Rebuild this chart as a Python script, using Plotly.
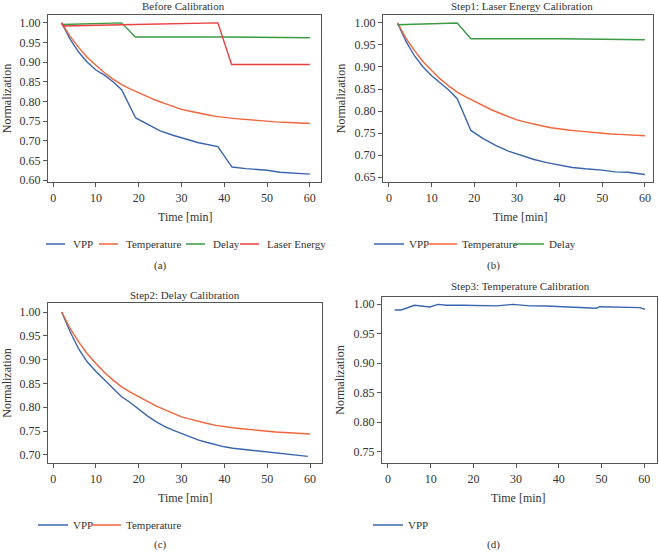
import plotly.graph_objects as go

# ---------------- data ----------------
temp_t = [2, 4, 6, 8, 10, 12, 14, 16, 18, 20, 22, 24, 26, 28, 30, 32, 34, 36, 38, 40,
          42, 44, 46, 48, 50, 52, 54, 56, 58, 60]
temp_v = [1.000, 0.965, 0.937, 0.912, 0.892, 0.873, 0.857, 0.843, 0.832, 0.822,
          0.812, 0.803, 0.795, 0.787, 0.780, 0.775, 0.770, 0.766, 0.762, 0.759,
          0.757, 0.755, 0.753, 0.751, 0.749, 0.748, 0.747, 0.746, 0.745, 0.744]

vpp_a_t = [2, 4, 6, 8, 10, 12, 14, 16, 19.3, 22, 25, 28, 31, 34, 38.5, 41.8, 45, 50, 53, 56, 60]
vpp_a_v = [1.000, 0.958, 0.925, 0.900, 0.880, 0.867, 0.850, 0.830, 0.758, 0.742, 0.725,
           0.714, 0.704, 0.695, 0.685, 0.633, 0.629, 0.625, 0.620, 0.618, 0.615]

delay_t = [2, 16, 19.2, 40, 60]
delay_v = [0.996, 1.000, 0.964, 0.964, 0.962]

laser_t = [2, 2.4, 16, 38.5, 41.7, 60]
laser_v = [1.000, 0.992, 0.995, 1.000, 0.894, 0.894]

vpp_b_t = [2, 4, 6, 8, 10, 12, 14, 16, 19.2, 22, 25, 28, 31, 34, 37, 40, 43, 46, 50, 53, 56, 60]
vpp_b_v = [1.000, 0.958, 0.925, 0.900, 0.880, 0.865, 0.848, 0.828, 0.756, 0.738, 0.722,
           0.709, 0.699, 0.690, 0.683, 0.677, 0.672, 0.669, 0.666, 0.662, 0.661, 0.656]

vpp_c_t = [2, 4, 6, 8, 10, 12, 14, 16, 18, 20, 22, 24, 26, 28, 30, 32, 34, 36, 38, 40,
           42, 44, 46, 48, 50, 52, 54, 56, 58, 59.5]
vpp_c_v = [1.000, 0.958, 0.922, 0.895, 0.875, 0.857, 0.838, 0.822, 0.810, 0.795,
           0.782, 0.770, 0.760, 0.752, 0.745, 0.738, 0.731, 0.726, 0.721, 0.717,
           0.714, 0.712, 0.710, 0.708, 0.707, 0.704, 0.702, 0.701, 0.699, 0.697]

vpp_d_t = [1.6, 3.1, 6.2, 7.8, 9.8, 11.7, 13.7, 17.6, 21.5, 25.4, 29.3, 33.2, 37.1, 41.0,
           44.1, 45.7, 48.8, 49.6, 53.5, 56.6, 59.0, 60.2]
vpp_d_v = [0.990, 0.990, 0.998, 0.997, 0.995, 0.9995, 0.998, 0.998, 0.997, 0.997, 0.9995,
           0.997, 0.9967, 0.9956, 0.9956, 0.9945, 0.993, 0.9956, 0.9945, 0.994, 0.994, 0.991]

x_ticks = [0, 10, 20, 30, 40, 50, 60]
panel_titles = ["Before Calibration", "Step1: Laser Energy Calibration",
                "Step2: Delay Calibration", "Step3: Temperature Calibration"]
panel_labels = ["(a)", "(b)", "(c)", "(d)"]
x_title = "Time [min]"
y_title = "Normalization"

# ---------------- style ----------------
BLUE = "#3a64b0"
ORANGE = "#f2643a"
GREEN = "#3c9a45"
RED = "#e8403f"
FONT = "Liberation Serif"
TXT = "#333333"
W, H = 659, 552
LEG_W = {"VPP": 8, "Temperature": 42, "Delay": 9, "Laser Energy": 62}
LEG_W_LAST = 62

fig = go.Figure()

def add(x, y, name, color, ax, leg, last=False):
    fig.add_trace(go.Scatter(x=x, y=y, name=name, mode="lines",
                             line=dict(color=color, width=1.4),
                             xaxis="x" + ax, yaxis="y" + ax, legend=leg,
                             legendwidth=LEG_W_LAST if last else LEG_W[name]))

add(vpp_a_t, vpp_a_v, "VPP", BLUE, "", "legend")
add(temp_t, temp_v, "Temperature", ORANGE, "", "legend")
add(delay_t, delay_v, "Delay", GREEN, "", "legend")
add(laser_t, laser_v, "Laser Energy", RED, "", "legend", last=True)

add(vpp_b_t, vpp_b_v, "VPP", BLUE, "2", "legend2")
add(temp_t, temp_v, "Temperature", ORANGE, "2", "legend2")
add(delay_t, delay_v, "Delay", GREEN, "2", "legend2", last=True)

add(vpp_c_t, vpp_c_v, "VPP", BLUE, "3", "legend3")
add(temp_t, temp_v, "Temperature", ORANGE, "3", "legend3", last=True)

add(vpp_d_t, vpp_d_v, "VPP", BLUE, "4", "legend4", last=True)

def px2x(p):
    return p / W

def px2y(p):
    return 1 - p / H

# panel geometry in px: left, right, top, bottom, xrange, yrange
panels = [
    (48, 321, 15, 182, [-1.2, 62.6], [0.595, 1.02]),
    (383, 653, 15, 182, [-1.4, 61.9], [0.639, 1.018]),
    (48, 322, 303, 463, [-1.2, 62.8], [0.683, 1.019]),
    (382, 657, 297, 463, [-1.4, 63.0], [0.731, 1.012]),
]

axis_common = dict(showline=True, mirror=True, linecolor="#555555", linewidth=1.2,
                   ticks="outside", ticklen=4, tickcolor="#555555", showgrid=False,
                   zeroline=False, tickfont=dict(family=FONT, size=12, color=TXT),
                   automargin=False)

layout = {}
for i, (l, r, t, b, xr, yr) in enumerate(panels):
    suf = "" if i == 0 else str(i + 1)
    layout["xaxis" + suf] = dict(axis_common, domain=[px2x(l), px2x(r)], range=xr,
                                 tickvals=x_ticks, anchor="y" + suf)
    layout["yaxis" + suf] = dict(axis_common, domain=[px2y(b), px2y(t)], range=yr,
                                 dtick=0.05, tickformat=".2f", anchor="x" + suf,
                                 title=dict(text=y_title, standoff=6,
                                            font=dict(family=FONT, size=12, color=TXT)))

annotations = []
title_pos = [(183, 6), (522, 6), (185, 295), (520, 286)]
xt_pos = [(185, 217), (520, 217), (185, 498), (518, 498)]
lab_pos = [(160, 265), (494, 265), (160, 544), (494, 544)]
for i in range(4):
    annotations.append(dict(text=panel_titles[i], x=px2x(title_pos[i][0]), y=px2y(title_pos[i][1]),
                            xref="paper", yref="paper", showarrow=False,
                            xanchor="center", yanchor="middle",
                            font=dict(family=FONT, size=11, color=TXT)))
    annotations.append(dict(text=x_title, x=px2x(xt_pos[i][0]), y=px2y(xt_pos[i][1]),
                            xref="paper", yref="paper", showarrow=False,
                            xanchor="center", yanchor="middle",
                            font=dict(family=FONT, size=12, color=TXT)))
    annotations.append(dict(text=panel_labels[i], x=px2x(lab_pos[i][0]), y=px2y(lab_pos[i][1]),
                            xref="paper", yref="paper", showarrow=False,
                            xanchor="center", yanchor="middle",
                            font=dict(family=FONT, size=11, color=TXT)))

leg_common = dict(orientation="h", xanchor="left", yanchor="middle",
                  font=dict(family=FONT, size=11, color=TXT), bgcolor="rgba(0,0,0,0)",
                  itemwidth=30, tracegroupgap=0, borderwidth=0)
layout["legend"] = dict(leg_common, x=px2x(33), y=px2y(244))
layout["legend2"] = dict(leg_common, x=px2x(369), y=px2y(244))
layout["legend3"] = dict(leg_common, x=px2x(33), y=px2y(525))
layout["legend4"] = dict(leg_common, x=px2x(368), y=px2y(525))

fig.update_layout(**layout)
fig.update_layout(width=W, height=H, margin=dict(l=0, r=0, t=0, b=0),
                  paper_bgcolor="white", plot_bgcolor="white",
                  annotations=annotations, showlegend=True,
                  font=dict(family=FONT, color=TXT))

# remove the page's default body margin and use shorter legend line samples
post = """
document.body.style.margin = '0';
var gd = document.getElementById('{plot_id}');
gd.querySelectorAll('.legend .traces .legendlines path').forEach(function(p){
    p.setAttribute('d', 'M13,0h19');
});
"""

fig.write_html("out.html", post_script=post, config={"displayModeBar": False})
